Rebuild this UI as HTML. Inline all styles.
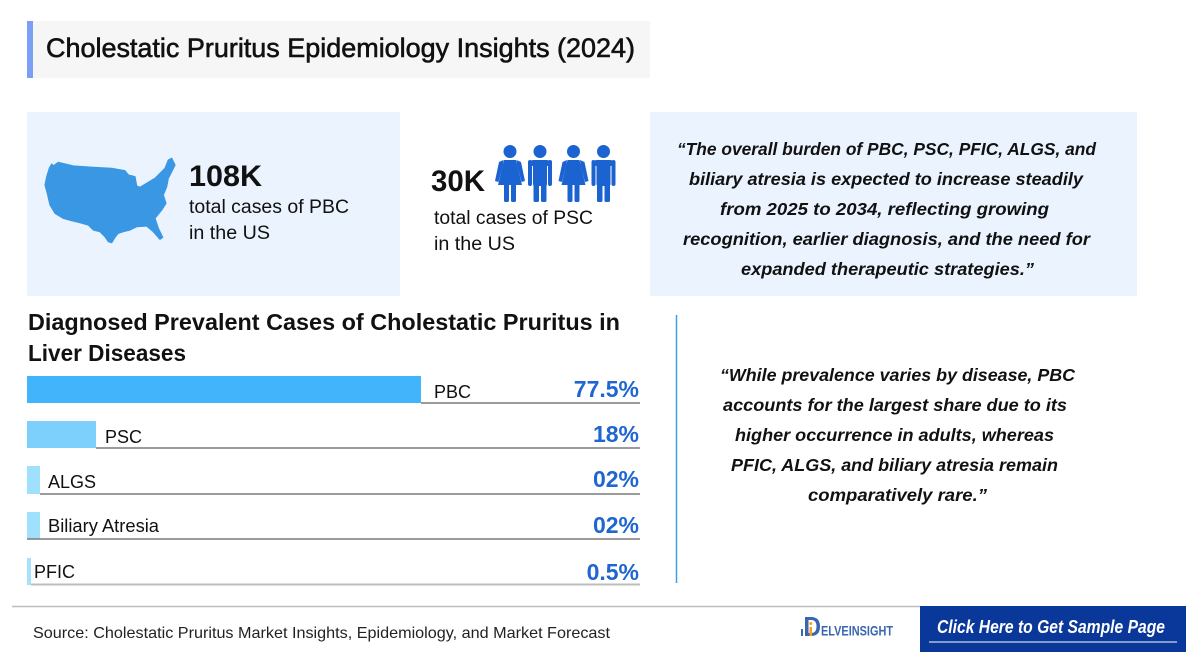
<!DOCTYPE html>
<html>
<head>
<meta charset="utf-8">
<style>
  html,body{margin:0;padding:0;background:#fff;}
  svg{display:block;}
  text{font-family:"Liberation Sans", sans-serif;}
</style>
</head>
<body>
<svg width="1200" height="660" viewBox="0 0 1200 660" xmlns="http://www.w3.org/2000/svg">
  <rect x="0" y="0" width="1200" height="660" fill="#ffffff"/>

  <!-- Title box -->
  <rect x="27" y="21" width="623" height="57" fill="#f6f6f6"/>
  <rect x="27" y="21" width="6" height="57" fill="#7b9ef6"/>
  <text x="46" y="57" font-size="27" fill="#111" stroke="#111" stroke-width="0.6" textLength="589" lengthAdjust="spacingAndGlyphs">Cholestatic Pruritus Epidemiology Insights (2024)</text>

  <!-- PBC box -->
  <rect x="27" y="112" width="373" height="184" fill="#ebf3fe"/>
  <path fill="#3a97e3" stroke="#3a97e3" stroke-width="1.2" stroke-linejoin="round" d="M51.7,164 L53.3,166 L58.3,162.3 L73.3,166 L93.3,167.3 L111.7,168.3 L125,170.7 L128.3,175 L135,176.7 L136.7,186 L140,187.3 L146.7,183.3 L155,178.3 L160,173.3 L165,168.3 L168.3,160 L171.7,158.3 L175,165 L171.7,171.7 L168.3,178.3 L166.7,186.7 L163.3,195 L166,203.3 L161.7,210 L155,218.3 L158.3,228.3 L162.7,237.3 L160,239.3 L153.3,231.7 L146.7,226 L136.7,226.7 L130,230 L123.3,231.7 L118.3,233.3 L115,237.3 L111.7,242.7 L108.3,241.7 L105,236.7 L100,231.7 L93.3,230 L88.3,225 L80,222.7 L71.7,220.7 L63.3,218.3 L55,213.3 L50,205 L47.3,193.3 L45,185 L46.7,176.7 L49.3,168.3 Z"/>
  <text x="189" y="186" font-size="30" font-weight="bold" fill="#111" textLength="73" lengthAdjust="spacingAndGlyphs">108K</text>
  <text x="189" y="213" font-size="19" fill="#111" textLength="160" lengthAdjust="spacingAndGlyphs">total cases of PBC</text>
  <text x="189" y="239" font-size="19" fill="#111" textLength="81" lengthAdjust="spacingAndGlyphs">in the US</text>

  <!-- PSC -->
  <text x="431" y="191" font-size="30" font-weight="bold" fill="#111" textLength="54" lengthAdjust="spacingAndGlyphs">30K</text>
  <g id="pair" fill="#1c63d2">
    <circle cx="510" cy="151.5" r="6.5"/>
    <path d="M504,160 L516,160 L522,185 L498,185 Z"/>
    <path d="M503.5,160 L499,162 L495,181 L498.5,182 L503,165 Z"/>
    <path d="M516.5,160 L521,162 L525,181 L521.5,182 L517,165 Z"/>
    <rect x="504" y="184" width="5" height="18" rx="1.5"/>
    <rect x="511" y="184" width="5" height="18" rx="1.5"/>
    <circle cx="540" cy="151.5" r="6.5"/>
    <rect x="533" y="160" width="14" height="26" rx="2"/>
    <rect x="528" y="160" width="4" height="26" rx="2"/>
    <rect x="548" y="160" width="4" height="26" rx="2"/>
    <rect x="531" y="160" width="18" height="6" rx="2"/>
    <rect x="533.5" y="184" width="5.5" height="18" rx="1.5"/>
    <rect x="541" y="184" width="5.5" height="18" rx="1.5"/>
  </g>
  <use href="#pair" transform="translate(63.5,0)"/>
  <text x="434" y="224" font-size="19" fill="#111" textLength="159" lengthAdjust="spacingAndGlyphs">total cases of PSC</text>
  <text x="434" y="250" font-size="19" fill="#111" textLength="81" lengthAdjust="spacingAndGlyphs">in the US</text>

  <!-- Quote box 1 -->
  <rect x="650" y="112" width="487" height="184" fill="#eaf3fe"/>
  <g font-size="17.5" font-weight="bold" font-style="italic" fill="#111">
    <text x="677" y="155" textLength="419" lengthAdjust="spacingAndGlyphs">“The overall burden of PBC, PSC, PFIC, ALGS, and</text>
    <text x="689" y="185" textLength="394" lengthAdjust="spacingAndGlyphs">biliary atresia is expected to increase steadily</text>
    <text x="720" y="215" textLength="329" lengthAdjust="spacingAndGlyphs">from 2025 to 2034, reflecting growing</text>
    <text x="683" y="245" textLength="407" lengthAdjust="spacingAndGlyphs">recognition, earlier diagnosis, and the need for</text>
    <text x="741" y="275" textLength="293" lengthAdjust="spacingAndGlyphs">expanded therapeutic strategies.”</text>
  </g>

  <!-- Chart title -->
  <text x="28" y="330" font-size="23.5" font-weight="bold" fill="#111" textLength="592" lengthAdjust="spacingAndGlyphs">Diagnosed Prevalent Cases of Cholestatic Pruritus in</text>
  <text x="28" y="361" font-size="23.5" font-weight="bold" fill="#111" textLength="158" lengthAdjust="spacingAndGlyphs">Liver Diseases</text>

  <!-- Bars -->
  <rect x="27" y="376" width="394" height="27" fill="#42b4fb"/>
  <line x1="421" y1="403" x2="640" y2="403" stroke="#7a7a7a" stroke-width="1.5"/>
  <rect x="27" y="421" width="69" height="27" fill="#7ed0fc"/>
  <line x1="96" y1="448" x2="640" y2="448" stroke="#7a7a7a" stroke-width="1.5"/>
  <rect x="27" y="466" width="13" height="28" fill="#9fe0fd"/>
  <line x1="40" y1="494" x2="640" y2="494" stroke="#7a7a7a" stroke-width="1.5"/>
  <rect x="27" y="512" width="13" height="27" fill="#9fe0fd"/>
  <line x1="27" y1="539" x2="640" y2="539" stroke="#7a7a7a" stroke-width="1.5"/>
  <rect x="27" y="558" width="4" height="27" fill="#a5e3fd"/>
  <line x1="31" y1="584.5" x2="640" y2="584.5" stroke="#bdbdbd" stroke-width="2"/>

  <g font-size="18" fill="#111">
    <text x="434" y="398">PBC</text>
    <text x="105" y="443">PSC</text>
    <text x="48" y="488">ALGS</text>
    <text x="48" y="532" textLength="111" lengthAdjust="spacingAndGlyphs">Biliary Atresia</text>
    <text x="34" y="578">PFIC</text>
  </g>
  <g font-size="23" font-weight="bold" fill="#1f66d1" text-anchor="end">
    <text x="639" y="397">77.5%</text>
    <text x="639" y="442">18%</text>
    <text x="639" y="487">02%</text>
    <text x="639" y="533">02%</text>
    <text x="639" y="580">0.5%</text>
  </g>

  <!-- Vertical divider -->
  <line x1="676.5" y1="315" x2="676.5" y2="583" stroke="#3aa0ea" stroke-width="1.5"/>

  <!-- Quote 2 -->
  <g font-size="17.5" font-weight="bold" font-style="italic" fill="#111">
    <text x="720" y="381" textLength="355" lengthAdjust="spacingAndGlyphs">“While prevalence varies by disease, PBC</text>
    <text x="723" y="411" textLength="344" lengthAdjust="spacingAndGlyphs">accounts for the largest share due to its</text>
    <text x="735" y="441" textLength="319" lengthAdjust="spacingAndGlyphs">higher occurrence in adults, whereas</text>
    <text x="731" y="471" textLength="327" lengthAdjust="spacingAndGlyphs">PFIC, ALGS, and biliary atresia remain</text>
    <text x="808" y="501" textLength="179" lengthAdjust="spacingAndGlyphs">comparatively rare.”</text>
  </g>

  <!-- Footer -->
  <line x1="12" y1="606.5" x2="920" y2="606.5" stroke="#bdbdbd" stroke-width="1.5"/>
  <text x="33" y="638" font-size="16" fill="#222" textLength="577" lengthAdjust="spacingAndGlyphs">Source: Cholestatic Pruritus Market Insights, Epidemiology, and Market Forecast</text>

  <!-- Logo -->
  <g>
    <path d="M805,617 L811,617 Q820,617 820,626.5 Q820,636 811,636 L805,636 Z M808.5,620 L808.5,633 L811,633 Q816.5,633 816.5,626.5 Q816.5,620 811,620 Z" fill="#3a66b0"/>
    <rect x="801" y="629" width="2" height="7" fill="#3a66b0"/>
    <rect x="809.5" y="627" width="2.5" height="9" fill="#f3a21c"/>
    <circle cx="810.8" cy="623.5" r="1.5" fill="#f3a21c"/>
    <text x="821" y="635.5" font-size="14" font-weight="bold" fill="#3a66b0" textLength="72" lengthAdjust="spacingAndGlyphs">ELVEINSIGHT</text>
  </g>

  <!-- Button -->
  <rect x="920" y="606" width="266" height="46" fill="#0a389a"/>
  <text x="937" y="633" font-size="18" font-weight="bold" font-style="italic" fill="#ffffff" textLength="228" lengthAdjust="spacingAndGlyphs">Click Here to Get Sample Page</text>
  <line x1="929" y1="642" x2="1177" y2="642" stroke="#ffffff" stroke-width="1"/>
</svg>
</body>
</html>
